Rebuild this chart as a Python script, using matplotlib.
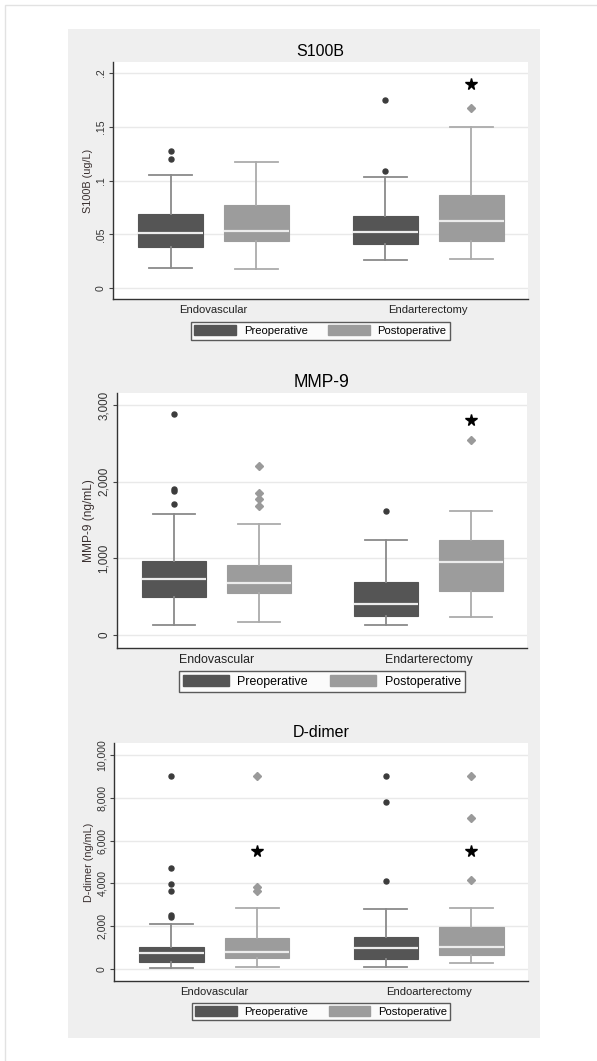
import matplotlib.pyplot as plt
from matplotlib.patches import Rectangle, Patch

plt.rcParams['font.family'] = ['Liberation Sans', 'DejaVu Sans']

# order of boxes: Endovascular pre, Endovascular post, Endarterectomy pre, Endarterectomy post
series = ['Preoperative', 'Postoperative']

# S100B (ug/L)
s100b_whislo = [0.019, 0.018, 0.026, 0.027]
s100b_q1 = [0.038, 0.044, 0.0415, 0.044]
s100b_med = [0.051, 0.053, 0.052, 0.062]
s100b_q3 = [0.069, 0.077, 0.067, 0.087]
s100b_whishi = [0.105, 0.117, 0.103, 0.150]
s100b_fliers = [[0.120, 0.127], [], [0.109, 0.175], [0.167]]
s100b_star = [None, None, None, 0.190]

# MMP-9 (ng/mL)
mmp9_whislo = [130, 160, 130, 230]
mmp9_q1 = [490, 550, 240, 575]
mmp9_med = [727, 675, 405, 950]
mmp9_q3 = [963, 910, 690, 1240]
mmp9_whishi = [1580, 1440, 1240, 1615]
mmp9_fliers = [[1707, 1880, 1905, 2877], [1685, 1768, 1851, 2198], [1611], [2538]]
mmp9_star = [None, None, None, 2810]

# D-dimer (ng/mL)
dd_whislo = [75, 120, 120, 280]
dd_q1 = [355, 513, 481, 681]
dd_med = [747, 793, 980, 1027]
dd_q3 = [1055, 1461, 1493, 1974]
dd_whishi = [2114, 2875, 2800, 2875]
dd_fliers = [[2426, 2534, 3668, 3966, 4713, 9020], [3654, 3855, 8988],
             [4106, 7793, 9006], [4167, 7046, 8988]]
dd_star = [None, 5530, None, 5490]

panels = [
    dict(title='S100B', ylabel='S100B (ug/L)', groups=['Endovascular', 'Endarterectomy'],
         whislo=s100b_whislo, q1=s100b_q1, med=s100b_med, q3=s100b_q3, whishi=s100b_whishi,
         fliers=s100b_fliers, star=s100b_star,
         yticks=[0, 0.05, 0.1, 0.15, 0.2], yticklabels=['0', '.05', '.1', '.15', '.2'],
         ylim=(-0.010, 0.210), box=(113, 62, 528, 299), leg_y=-0.097, fs=1.0),
    dict(title='MMP-9', ylabel='MMP-9 (ng/mL)', groups=['Endovascular', 'Endarterectomy'],
         whislo=mmp9_whislo, q1=mmp9_q1, med=mmp9_med, q3=mmp9_q3, whishi=mmp9_whishi,
         fliers=mmp9_fliers, star=mmp9_star,
         yticks=[0, 1000, 2000, 3000], yticklabels=['0', '1,000', '2,000', '3,000'],
         ylim=(-174, 3157), box=(117, 393, 527, 648), leg_y=-0.092, fs=1.1),
    dict(title='D-dimer', ylabel='D-dimer (ng/mL)', groups=['Endovascular', 'Endoarterectomy'],
         whislo=dd_whislo, q1=dd_q1, med=dd_med, q3=dd_q3, whishi=dd_whishi,
         fliers=dd_fliers, star=dd_star,
         yticks=[0, 2000, 4000, 6000, 8000, 10000],
         yticklabels=['0', '2,000', '4,000', '6,000', '8,000', '10,000'],
         ylim=(-546, 10546), box=(114, 743, 528, 981), leg_y=-0.091, fs=1.0),
]

W, H = 597, 1061
fig = plt.figure(figsize=(W / 100, H / 100), dpi=100)
fig.patch.set_facecolor('white')

# thin outer frame and grey graph region
fig.add_artist(Rectangle((5 / W, -0.05), 1, 1.05 - 5 / H, transform=fig.transFigure,
                         facecolor='none', edgecolor='#e2e2e2', lw=1, zorder=-2))
fig.add_artist(Rectangle((68 / W, 1 - 1038 / H), (540 - 68) / W, (1038 - 29) / H,
                         transform=fig.transFigure, facecolor='#efefef', edgecolor='none',
                         zorder=-1))

dark = '#555555'
light = '#9c9c9c'
fills = [dark, light, dark, light]
whisk = ['#8a8a8a', '#ababab', '#8a8a8a', '#ababab']
positions = [1, 2, 3.5, 4.5]

for p in panels:
    k = p['fs']
    x0, y0, x1, y1 = p['box']
    ax = fig.add_axes([x0 / W, 1 - y1 / H, (x1 - x0) / W, (y1 - y0) / H])
    ax.set_facecolor('white')
    stats = []
    for i in range(4):
        stats.append(dict(whislo=p['whislo'][i], q1=p['q1'][i], med=p['med'][i],
                          q3=p['q3'][i], whishi=p['whishi'][i], fliers=p['fliers'][i]))
    for i in range(4):
        bp = ax.bxp([stats[i]], positions=[positions[i]], widths=0.75, capwidths=0.5,
                    patch_artist=True, showfliers=True)
        for b in bp['boxes']:
            b.set_facecolor(fills[i])
            b.set_edgecolor(fills[i])
            b.set_linewidth(0.8)
        for m in bp['medians']:
            m.set_color('#ececec')
            m.set_linewidth(1.6)
        for w in bp['whiskers'] + bp['caps']:
            w.set_color(whisk[i])
            w.set_linewidth(1.3)
        for f in bp['fliers']:
            if i % 2 == 0:
                f.set(marker='o', markersize=3.6, markerfacecolor='#3c3c3c',
                      markeredgecolor='#3c3c3c')
            else:
                f.set(marker='D', markersize=4.2, markerfacecolor='#9a9a9a',
                      markeredgecolor='#9a9a9a')
        if p['star'][i] is not None:
            ax.plot(positions[i], p['star'][i], marker='*', markersize=8.5,
                    color='black', linestyle='none')

    ax.set_xlim(0.33, 5.16)
    ax.set_ylim(*p['ylim'])
    ax.set_yticks(p['yticks'])
    ax.set_yticklabels(p['yticklabels'], rotation=90, va='center', fontsize=7.6 * k,
                       color='#333333')
    ax.yaxis.grid(True, color='#e9e9e9', lw=1)
    ax.set_axisbelow(True)
    ax.set_xticks([1.5, 4.0])
    ax.set_xticklabels(p['groups'], fontsize=8.1 * k, color='#222222')
    ax.tick_params(axis='x', length=0, pad=4)
    ax.tick_params(axis='y', length=3, width=0.8, color='#444444', pad=2)
    for s in ['top', 'right']:
        ax.spines[s].set_visible(False)
    for s in ['left', 'bottom']:
        ax.spines[s].set_color('#333333')
        ax.spines[s].set_linewidth(1)
    ax.set_ylabel(p['ylabel'], fontsize=7.8 * k, color='#3a3030', labelpad=2)
    ax.set_title(p['title'], fontsize=11.5 * k, pad=4)

    handles = [Patch(facecolor=dark, edgecolor=dark), Patch(facecolor=light, edgecolor=light)]
    leg = ax.legend(handles, series, loc='upper center', bbox_to_anchor=(0.5, p['leg_y']),
                    ncol=2, fontsize=8.1 * k, frameon=True, fancybox=False,
                    handlelength=3.7, handleheight=1.0, columnspacing=1.8,
                    handletextpad=0.7, borderpad=0.3, borderaxespad=0)
    leg.get_frame().set_edgecolor('#333333')
    leg.get_frame().set_linewidth(1)

fig.savefig('out.png', dpi=100)
